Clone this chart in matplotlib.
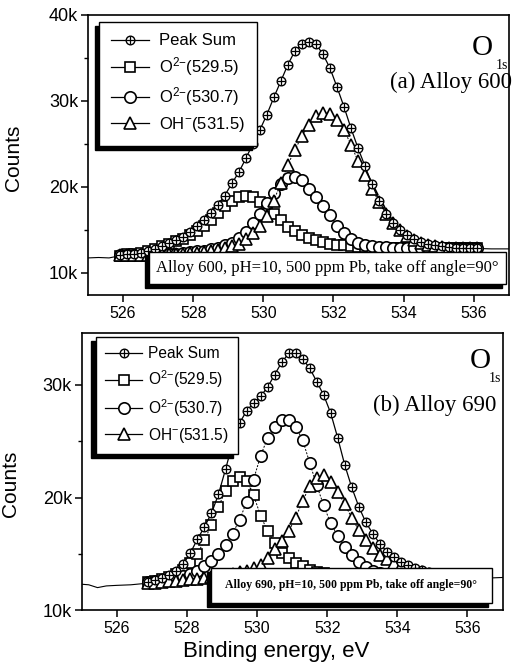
import numpy as np
import matplotlib.pyplot as plt
from matplotlib.patches import Rectangle
from matplotlib.lines import Line2D
from matplotlib.ticker import MultipleLocator, FuncFormatter

plt.rcParams['font.family'] = ['Liberation Sans', 'DejaVu Sans']
plt.rcParams['mathtext.fontset'] = 'custom'
plt.rcParams['mathtext.rm'] = 'Liberation Sans'
plt.rcParams['mathtext.it'] = 'Liberation Sans'

# ---- (a) Alloy 600 : energy grid 525.9 ... 536.1 eV, step 0.2
be_a = np.round(np.arange(525.9, 536.15, 0.2), 1)
sum_a = [12.1, 12.15, 12.2, 12.3, 12.5, 12.8, 13.1, 13.45, 13.8, 14.2, 14.8, 15.5, 16.2, 17.0,
         17.9, 19.0, 20.4, 21.7, 23.3, 25.0, 26.6, 28.4, 30.4, 32.3, 34.2, 35.8, 36.6, 36.8,
         36.6, 35.4, 33.8, 31.6, 29.3, 26.8, 24.5, 22.4, 20.3, 18.4, 16.9, 15.8, 15.0, 14.4,
         13.9, 13.6, 13.4, 13.2, 13.1, 13.0, 12.95, 12.9, 12.9, 12.85]
o295_a = [12.0, 12.15, 12.2, 12.3, 12.5, 12.8, 13.1, 13.4, 13.7, 14.0, 14.4, 14.9, 15.5, 16.2,
          17.0, 17.8, 18.4, 18.8, 19.0, 18.8, 18.3, 17.5, 16.8, 16.1, 15.4, 14.9, 14.4, 14.1,
          13.8, 13.6, 13.4, 13.3, 13.2, 13.1, 13.05, 13.0, 12.95, 12.95, 12.9, 12.9, 12.9, 12.9,
          12.9, 12.9, 12.85, 12.85, 12.85, 12.85, 12.85, 12.85, 12.85, 12.85]
o307_a = [12.1, 12.1, 12.1, 12.1, 12.15, 12.15, 12.2, 12.2, 12.25, 12.3, 12.4, 12.5, 12.6, 12.75,
          12.95, 13.2, 13.5, 14.1, 14.8, 15.8, 16.9, 18.1, 19.3, 20.3, 21.0, 21.2, 20.8, 19.8,
          18.8, 17.8, 16.7, 15.5, 14.6, 13.9, 13.5, 13.3, 13.15, 13.05, 13.0, 12.95, 12.95, 12.9,
          12.9, 12.9, 12.9, 12.9, 12.9, 12.85, 12.85, 12.85, 12.85, 12.85]
oh_a = [12.1, 12.1, 12.1, 12.1, 12.1, 12.15, 12.15, 12.2, 12.2, 12.25, 12.3, 12.35, 12.45, 12.55,
        12.7, 12.9, 13.1, 13.4, 13.9, 14.6, 15.5, 16.6, 18.4, 20.5, 22.6, 24.3, 25.9, 27.2,
        28.2, 28.6, 28.5, 27.8, 26.6, 24.9, 23.0, 21.4, 19.8, 18.2, 16.8, 15.8, 15.0, 14.3,
        13.8, 13.5, 13.3, 13.1, 13.0, 12.95, 12.9, 12.9, 12.85, 12.85]
raw_a_left_x = [525.0, 525.3, 525.6, 525.9]
raw_a_left_y = [11.75, 11.8, 11.75, 12.0]
raw_a_right_x = [536.1, 536.5, 537.0]
raw_a_right_y = [12.85, 12.8, 12.8]

# ---- (b) Alloy 690 : energy grid 526.9 ... 536.3 eV, step 0.2
be_b = np.round(np.arange(526.9, 536.35, 0.2), 1)
sum_b = [12.5, 12.65, 12.85, 13.1, 13.5, 14.1, 15.1, 16.3, 17.4, 18.6, 20.3, 22.5, 24.8, 26.6,
         27.7, 28.4, 29.0, 29.8, 30.9, 32.0, 32.8, 32.8, 32.3, 31.5, 30.3, 29.1, 27.5, 25.3,
         22.9, 20.9, 19.2, 17.8, 16.8, 15.9, 15.2, 14.7, 14.3, 14.0, 13.75, 13.55, 13.4, 13.3,
         13.2, 13.1, 13.05, 13.0, 12.95, 12.9]
o295_b = [12.5, 12.6, 12.75, 12.95, 13.2, 13.6, 14.2, 15.0, 16.2, 17.6, 19.2, 20.6, 21.5, 21.8,
          21.5, 20.2, 18.4, 17.0, 16.0, 15.1, 14.6, 14.2, 13.9, 13.6, 13.4, 13.3, 13.2, 13.1,
          13.05, 13.0, 12.95, 12.95, 12.95, 12.95, 12.9, 12.9, 12.9, 12.9, 12.9, 12.9, 12.9, 12.9,
          12.9, 12.9, 12.9, 12.9, 12.9, 12.9]
o307_b = [12.5, 12.55, 12.65, 12.75, 12.9, 13.05, 13.25, 13.5, 13.9, 14.4, 15.0, 15.8, 16.8, 18.0,
          19.6, 21.6, 23.7, 25.3, 26.3, 26.9, 26.9, 26.3, 25.1, 23.1, 21.1, 19.3, 17.7, 16.6,
          15.6, 14.9, 14.3, 13.8, 13.5, 13.3, 13.15, 13.05, 13.0, 12.95, 12.95, 12.95, 12.9, 12.9,
          12.9, 12.9, 12.9, 12.9, 12.9, 12.9]
oh_b = [12.4, 12.45, 12.5, 12.55, 12.6, 12.7, 12.75, 12.8, 12.85, 12.95, 13.05, 13.15, 13.25, 13.4,
        13.5, 13.7, 14.0, 14.6, 15.4, 16.1, 17.0, 18.2, 19.7, 21.0, 21.7, 22.0, 21.4, 20.5,
        19.4, 18.2, 17.1, 16.2, 15.5, 14.9, 14.5, 14.2, 13.9, 13.7, 13.5, 13.35, 13.25, 13.15,
        13.1, 13.05, 13.0, 12.95, 12.9, 12.9]
raw_b_left_x = [525.0, 525.2, 525.45, 525.7, 526.0, 526.4, 526.9]
raw_b_left_y = [12.3, 12.25, 12.0, 12.15, 12.2, 12.25, 12.4]
raw_b_right_x = [536.3, 536.6, 537.0]
raw_b_right_y = [12.9, 12.85, 12.9]

labels = ["Peak Sum", r"O$^{2{-}}$(529.5)", r"O$^{2{-}}$(530.7)", r"OH$^{{-}}$(531.5)"]
note_a = "Alloy 600, pH=10, 500 ppm Pb, take off angle=90\u00b0"
note_b = "Alloy 690, pH=10, 500 ppm Pb, take off angle=90\u00b0"

k = 1000.0
fig = plt.figure(figsize=(5.24, 6.69), dpi=100)
ax_a = fig.add_axes([0.168, 0.559, 0.803, 0.419])
ax_b = fig.add_axes([0.156, 0.088, 0.803, 0.414])

mk = dict(mfc='white', mec='black', mew=1.2)
specs = [('s', 7.2), ('o', 8.2), ('^', 8.0)]


def draw_panel(ax, be, s, comps, lx, ly, rx, ry):
    ax.plot(lx, np.array(ly) * k, color='black', lw=0.8)
    ax.plot(rx, np.array(ry) * k, color='black', lw=0.8)
    for (m, size), c in zip(specs, comps):
        ax.plot(be, np.array(c) * k, ls=(0, (2.0, 1.5)), lw=0.7, color='black',
                marker=m, ms=size, **mk)
    ax.plot(be, np.array(s) * k, ls='-', lw=0.9, color='black', marker='o', ms=6.2,
            mfc='white', mec='black', mew=1.0)
    ax.plot(be, np.array(s) * k, ls='none', marker='+', ms=6.2, mec='black', mew=0.9)
    # legend proxies (short solid lines through the symbols)
    h0 = (Line2D([], [], color='black', lw=0.9, marker='o', ms=6.2, mfc='white', mec='black',
                 mew=1.0),
          Line2D([], [], ls='none', marker='+', ms=6.2, mec='black', mew=0.9))
    hs = [h0] + [Line2D([], [], color='black', lw=0.9, marker=m, ms=size, **mk)
                 for m, size in specs]
    return hs


def style_axes(ax):
    ax.set_xlim(525, 537)
    ax.xaxis.set_major_locator(MultipleLocator(2))
    ax.yaxis.set_major_locator(MultipleLocator(10000))
    ax.yaxis.set_minor_locator(MultipleLocator(5000))
    ax.yaxis.set_major_formatter(FuncFormatter(lambda v, p: f"{int(round(v / 1000))}k"))
    ax.tick_params(axis='both', which='major', direction='out', length=5, width=1.1)
    ax.tick_params(axis='y', which='minor', direction='out', length=3, width=1.0)
    ax.tick_params(axis='y', labelsize=13, pad=2)
    ax.tick_params(axis='x', labelsize=11.5, pad=3)
    for sp in ax.spines.values():
        sp.set_linewidth(1.2)
    ax.set_ylabel("Counts", fontsize=15)


def note_box(ax, x0, y0, w, h, text, size, weight):
    dx, dy = 0.009, 0.014
    ax.add_patch(Rectangle((x0 - dx, y0 - dy), w, h, transform=ax.transAxes,
                           facecolor='black', edgecolor='black', zorder=6, clip_on=False))
    ax.add_patch(Rectangle((x0, y0), w, h, transform=ax.transAxes, facecolor='white',
                           edgecolor='black', lw=1.0, zorder=7, clip_on=False))
    ax.text(x0 + w / 2, y0 + h / 2, text, transform=ax.transAxes, ha='center', va='center',
            fontsize=size, fontweight=weight, family='Liberation Serif', zorder=8)


def add_legend(ax, hs, anchor, size, bpad, hlen, htpad, lsp):
    leg = ax.legend(hs, labels, loc='upper left', bbox_to_anchor=anchor, borderaxespad=0,
                    fontsize=size, frameon=True, fancybox=False, edgecolor='black',
                    framealpha=1, borderpad=bpad, handlelength=hlen, handletextpad=htpad,
                    labelspacing=lsp,
                    shadow=dict(ox=-3, oy=-3, facecolor='black', edgecolor='black', alpha=1))
    leg.get_frame().set_linewidth(1.0)
    leg.set_zorder(10)


# panel (a)
hs = draw_panel(ax_a, be_a, sum_a, [o295_a, o307_a, oh_a],
                raw_a_left_x, raw_a_left_y, raw_a_right_x, raw_a_right_y)
style_axes(ax_a)
ax_a.set_ylim(7440, 40000)
ax_a.yaxis.set_label_coords(-0.155, 0.49)
add_legend(ax_a, hs, (0.026, 0.975), 12, 0.7, 2.3, 0.6, 0.42)
note_box(ax_a, 0.145, 0.038, 0.848, 0.117, note_a, 12, 'normal')
ax_a.text(0.936, 0.882, "O", transform=ax_a.transAxes, ha='center', va='center',
          fontsize=21, family='Liberation Serif')
ax_a.text(0.983, 0.818, "1s", transform=ax_a.transAxes, ha='center', va='center',
          fontsize=10, family='Liberation Serif')
ax_a.text(1.007, 0.757, "(a) Alloy 600", transform=ax_a.transAxes, ha='right', va='center',
          fontsize=16.5, family='Liberation Serif', zorder=9)

# panel (b)
hs = draw_panel(ax_b, be_b, sum_b, [o295_b, o307_b, oh_b],
                raw_b_left_x, raw_b_left_y, raw_b_right_x, raw_b_right_y)
style_axes(ax_b)
ax_b.set_ylim(10000, 34600)
ax_b.yaxis.set_label_coords(-0.147, 0.455)
ax_b.set_xlabel("Binding energy, eV", fontsize=16)
ax_b.xaxis.set_label_coords(0.463, -0.112)
add_legend(ax_b, hs, (0.033, 0.986), 11.2, 0.6, 2.4, 0.35, 0.45)
note_box(ax_b, 0.306, 0.027, 0.668, 0.125, note_b, 8.5, 'bold')
ax_b.text(0.948, 0.899, "O", transform=ax_b.transAxes, ha='center', va='center',
          fontsize=21, family='Liberation Serif')
ax_b.text(0.982, 0.836, "1s", transform=ax_b.transAxes, ha='center', va='center',
          fontsize=10, family='Liberation Serif')
ax_b.text(0.986, 0.740, "(b) Alloy 690", transform=ax_b.transAxes, ha='right', va='center',
          fontsize=16.5, family='Liberation Serif', zorder=9)

fig.savefig("out.png", dpi=100)
